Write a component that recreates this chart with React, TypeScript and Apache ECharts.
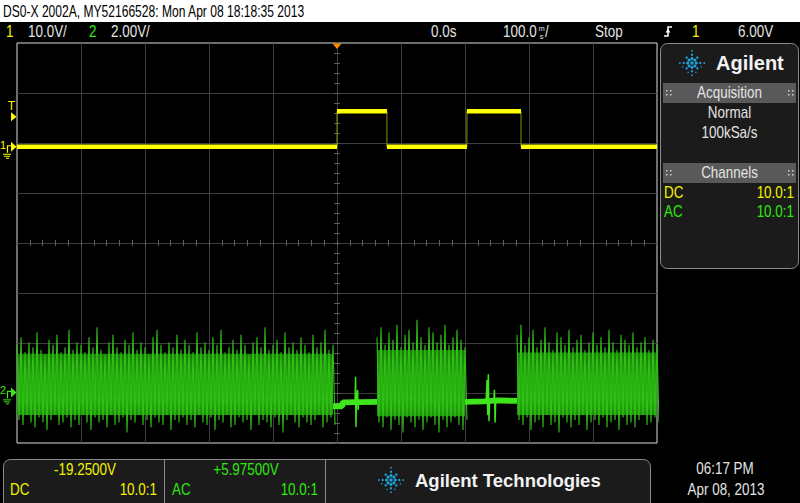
import React, { useEffect, useRef } from "react";
import * as echarts from "echarts";

// ---------------- time base & channel settings ----------------
const timeMin = -500; // ms
const timeMax = 500;
const timeDiv = 100; // ms / div
const ch1Scale = 10; // V / div
const ch1Offset = -19.25; // V
const ch2Scale = 2; // V / div
const ch2Offset = 5.975; // V
const halfDivsY = 4;

// ---------------- channel 1 (yellow, square pulses) ----------------
const ch1EdgeTimes = [-500, 0, 78, 203, 287.5, 500];
const ch1Levels = [0, 7.1, 0, 7.1, 0];
const ch1TriggerLevel = 6.0;

// ---------------- channel 2 (green, noise bursts; per-column max / min, V) ----------------
const noiseStarts = [-500, 62.5, 281.25];
const noiseEnds = [-6.25, 200, 500];
const noiseStep = 6.25; // ms per column
const noise1Hi = [
  1.9, 2.2, 1.6, 2.0, 1.8, 2.4, 1.7, 1.5, 2.1, 1.9,
  2.3, 1.6, 1.8, 2.5, 1.7, 2.0, 1.9, 1.6, 2.2, 1.8,
  2.6, 1.7, 1.5, 2.0, 2.3, 1.8, 1.6, 2.1, 1.9, 2.4,
  1.7, 2.0, 1.8, 1.5, 2.2, 2.5, 1.9, 1.6, 2.0, 1.8,
  2.3, 1.7, 2.1, 1.9, 1.6, 2.4, 1.8, 2.0, 1.7, 2.2,
  1.9, 2.5, 1.6, 1.8, 2.1, 1.7, 2.3, 1.9, 1.5, 2.0,
  2.2, 1.8, 2.6, 1.7, 1.9, 2.1, 1.6, 2.4, 1.8, 2.0,
  1.7, 2.2, 1.9, 1.6, 2.3, 1.8, 2.0, 2.5, 1.7, 1.9,
];
const noise1Lo = [
  -1.1, -1.3, -0.9, -1.2, -1.4, -1.0, -1.2, -1.5, -1.1, -0.9,
  -1.3, -1.2, -1.0, -1.4, -1.1, -1.3, -0.9, -1.2, -1.5, -1.0,
  -1.2, -1.1, -1.4, -0.9, -1.3, -1.2, -1.0, -1.6, -1.1, -1.2,
  -0.9, -1.3, -1.1, -1.4, -1.0, -1.2, -1.3, -0.9, -1.5, -1.1,
  -1.2, -1.0, -1.3, -1.1, -1.4, -0.9, -1.2, -1.3, -1.0, -1.5,
  -1.1, -1.2, -0.9, -1.4, -1.3, -1.0, -1.2, -1.1, -1.5, -0.9,
  -1.3, -1.1, -1.2, -1.4, -1.0, -1.3, -1.6, -1.1, -0.9, -1.2,
  -1.4, -1.0, -1.2, -1.3, -1.1, -0.9, -1.4, -1.2, -1.0, -1.3,
];
const noise2Hi = [
  2.2, 2.6, 1.9, 2.4, 2.1, 2.7, 1.8, 2.3, 2.5, 2.0,
  2.9, 2.2, 1.9, 2.6, 2.4, 2.0, 2.3, 2.7, 1.9, 2.2,
  2.5, 2.1, 1.8,
];
const noise2Lo = [
  -1.2, -1.4, -1.0, -1.5, -1.1, -1.3, -1.6, -1.0, -1.2, -1.4,
  -1.1, -1.5, -1.2, -1.0, -1.3, -1.6, -1.1, -1.4, -1.2, -1.0,
  -1.3, -1.5, -1.1,
];
const noise3Hi = [
  2.3, 2.7, 1.9, 2.2, 2.5, 1.8, 2.1, 2.6, 2.0, 1.7,
  2.4, 2.2, 1.9, 2.5, 1.8, 2.1, 2.3, 1.7, 2.0, 2.4,
  1.9, 2.2, 1.8, 2.5, 2.0, 1.7, 2.3, 2.1, 1.9, 2.4,
  1.8, 2.0, 2.2, 1.7, 2.1, 1.9,
];
const noise3Lo = [
  -1.1, -1.3, -1.0, -1.5, -1.2, -1.1, -1.4, -0.9, -1.3, -1.2,
  -1.6, -1.0, -1.2, -1.4, -1.1, -1.3, -0.9, -1.5, -1.2, -1.1,
  -1.3, -1.0, -1.4, -1.2, -1.1, -1.5, -1.0, -1.3, -1.2, -1.4,
  -1.1, -0.9, -1.3, -1.2, -1.0, -1.2,
];
const noiseBandLo = [-0.9, -0.95, -0.9];
const noiseBandHi = [1.55, 1.7, 1.6];

const quiet1T = [-6.25, 8, 9, 62.5];
const quiet1V = [-0.55, -0.55, -0.4, -0.38];
const quiet2T = [200, 230, 250, 281.25];
const quiet2V = [-0.38, -0.36, -0.32, -0.34];

const spike1T = [28.2, 29.0, 29.6, 30.3, 32.2, 33.0, 33.8];
const spike1V = [-0.4, 0.62, -1.38, -0.3, 0.1, -0.7, -0.35];
const spike2T = [233, 234.5, 235.5, 236.5, 237.5, 238.5, 245, 246, 247, 248];
const spike2V = [-0.35, 0.5, -0.9, 0.72, -1.15, -0.3, -0.3, 0.1, -1.2, -0.3];

// ---------------- texts ----------------
const headerText = "DS0-X 2002A, MY52166528: Mon Apr 08 18:18:35 2013";
const ch1ScaleText = "10.0V/";
const ch2ScaleText = "2.00V/";
const delayText = "0.0s";
const timeScaleText = "100.0";
const runText = "Stop";
const trigLevelText = "6.00V";
const ch1OffsetText = "-19.2500V";
const ch2OffsetText = "+5.97500V";
const probeText = "10.0:1";
const clockText = "06:17 PM";
const dateText = "Apr 08, 2013";

const YEL = "#ffff00";
const YEL_T = "#f2f200";
const GRN = "#3ee41c";
const GRN_T = "#2ee810";
const LOGO = "#1e9fd8";
const TXT = "#e4e4e4";
const SANS = '"Liberation Sans", Arial, sans-serif';
const NARROW_SCALE = 0.84;

function txt(text: string, x: number, y: number, fill: string, size = 16, align = "left", extra: any = {}, scale = NARROW_SCALE) {
  return {
    type: "text",
    x,
    y,
    scaleX: scale,
    silent: true,
    z: 100,
    style: { text, fill, fontSize: size, fontFamily: SANS, align, verticalAlign: "middle", ...extra },
  };
}

function agilentLogo(cx: number, cy: number, s: number) {
  const out: any[] = [];
  out.push({ type: "circle", z: 100, silent: true, shape: { cx, cy, r: 1.5 * s }, style: { fill: LOGO } });
  for (let k = 0; k < 8; k++) {
    const a = (k * Math.PI) / 4;
    const diag = k % 2 === 1;
    const dists = diag ? [3.6, 6.6] : [3.8, 7.2, 10.6];
    dists.forEach((d, j) =>
      out.push({
        type: "circle",
        z: 100,
        silent: true,
        shape: { cx: cx + Math.cos(a) * d * s, cy: cy + Math.sin(a) * d * s, r: (1.35 - j * 0.3) * s },
        style: { fill: LOGO },
      })
    );
  }
  for (let k = 0; k < 8; k++) {
    const a = ((k + 0.5) * Math.PI) / 4;
    out.push({
      type: "circle",
      z: 100,
      silent: true,
      shape: { cx: cx + Math.cos(a) * 8.8 * s, cy: cy + Math.sin(a) * 8.8 * s, r: 0.6 * s },
      style: { fill: LOGO },
    });
  }
  return out;
}

function grip(x: number, y: number) {
  const out: any[] = [];
  [0, 4].forEach((dx) =>
    [0, 4].forEach((dy) =>
      out.push({ type: "rect", z: 100, silent: true, shape: { x: x + dx, y: y + dy, width: 1.5, height: 1.5 }, style: { fill: "#cfcfcf" } })
    )
  );
  return out;
}

function buildData() {
  const ch1Step: any[] = [];
  const ch1Flat: any[] = [];
  ch1Levels.forEach((lv, i) => {
    ch1Step.push([ch1EdgeTimes[i], lv], [ch1EdgeTimes[i + 1], lv]);
    ch1Flat.push([ch1EdgeTimes[i], lv], [ch1EdgeTimes[i + 1], lv], [ch1EdgeTimes[i + 1], "-"]);
  });
  // peak-detect style trace: each column goes max -> min
  const noise: any[] = [];
  [
    [noise1Hi, noise1Lo],
    [noise2Hi, noise2Lo],
    [noise3Hi, noise3Lo],
  ].forEach(([hi, lo], k) => {
    hi.forEach((v, i) => {
      const t = noiseStarts[k] + i * noiseStep;
      noise.push([t, v], [t + noiseStep / 2, lo[i]]);
    });
    noise.push([noiseEnds[k], "-"]);
  });
  const quiet: any[] = [];
  quiet1T.forEach((t, i) => quiet.push([t, quiet1V[i]]));
  quiet.push([quiet1T[quiet1T.length - 1], "-"]);
  quiet2T.forEach((t, i) => quiet.push([t, quiet2V[i]]));
  const spikes: any[] = [];
  spike1T.forEach((t, i) => spikes.push([t, spike1V[i]]));
  spikes.push([spike1T[spike1T.length - 1], "-"]);
  spike2T.forEach((t, i) => spikes.push([t, spike2V[i]]));
  const band = noiseStarts.map((s, i) => [s, noiseEnds[i], noiseBandLo[i], noiseBandHi[i]]);
  return { ch1Step, ch1Flat, noise, quiet, spikes, band };
}

export default function App() {
  const ref = useRef<HTMLDivElement>(null);
  useEffect(() => {
    if (!ref.current) return;
    const chart = echarts.init(ref.current, undefined, { renderer: "svg" });
    const d = buildData();

    const divAxisX = (pos: string, split: boolean) => ({
      type: "value",
      min: timeMin,
      max: timeMax,
      interval: timeDiv,
      position: pos,
      axisLine: { show: true, onZero: true, onZeroAxisIndex: 0, lineStyle: { color: "#3e3e3e" } },
      axisTick: { show: true, length: 3, lineStyle: { color: "#5e5e5e" } },
      minorTick: { show: true, splitNumber: 5, length: 3, lineStyle: { color: "#5e5e5e" } },
      axisLabel: { show: false },
      splitLine: { show: split, showMinLine: false, showMaxLine: false, lineStyle: { color: "#3e3e3e", width: 1 } },
    });
    const divAxisY = (pos: string, split: boolean) => ({
      type: "value",
      min: -halfDivsY,
      max: halfDivsY,
      interval: 1,
      position: pos,
      axisLine: { show: true, onZero: true, onZeroAxisIndex: 0, lineStyle: { color: "#3e3e3e" } },
      axisTick: { show: true, length: 3, lineStyle: { color: "#5e5e5e" } },
      minorTick: { show: true, splitNumber: 5, length: 3, lineStyle: { color: "#5e5e5e" } },
      axisLabel: { show: false },
      splitLine: { show: split, showMinLine: false, showMaxLine: false, lineStyle: { color: "#3e3e3e", width: 1 } },
    });

    const option: any = {
      animation: false,
      backgroundColor: "#000000",
      grid: { left: 17, top: 43, width: 640, height: 400, show: true, borderColor: "#dcdcdc", borderWidth: 1, backgroundColor: "transparent" },
      xAxis: [divAxisX("bottom", true), divAxisX("top", false)],
      yAxis: [
        divAxisY("left", true),
        divAxisY("right", false),
        { type: "value", show: false, min: ch1Offset - halfDivsY * ch1Scale, max: ch1Offset + halfDivsY * ch1Scale, splitLine: { show: false } },
        { type: "value", show: false, min: ch2Offset - halfDivsY * ch2Scale, max: ch2Offset + halfDivsY * ch2Scale, splitLine: { show: false } },
      ],
      series: [
        {
          type: "custom",
          name: "ch2 band",
          xAxisIndex: 0,
          yAxisIndex: 3,
          silent: true,
          clip: true,
          z: 2,
          encode: { x: [0, 1], y: [2, 3] },
          data: d.band,
          renderItem: (params: any, api: any) => {
            const p0 = api.coord([api.value(0), api.value(3)]);
            const p1 = api.coord([api.value(1), api.value(2)]);
            return {
              type: "rect",
              shape: { x: p0[0], y: p0[1], width: p1[0] - p0[0], height: p1[1] - p0[1] },
              style: {
                fill: new echarts.graphic.LinearGradient(0, 0, 0, 1, [
                  { offset: 0, color: "#177c07" },
                  { offset: 0.35, color: "#1f9c0b" },
                  { offset: 0.75, color: "#27ad0f" },
                  { offset: 1, color: "#1c900a" },
                ]),
              },
            };
          },
        },
        {
          type: "line",
          name: "ch2 noise",
          xAxisIndex: 0,
          yAxisIndex: 3,
          data: d.noise,
          showSymbol: false,
          symbol: "none",
          connectNulls: false,
          silent: true,
          z: 3,
          lineStyle: { color: "#30c016", width: 1.1 },
        },
        {
          type: "line",
          name: "ch2 quiet",
          xAxisIndex: 0,
          yAxisIndex: 3,
          data: d.quiet,
          showSymbol: false,
          symbol: "none",
          connectNulls: false,
          silent: true,
          z: 4,
          lineStyle: { color: GRN, width: 6 },
        },
        {
          type: "line",
          name: "ch2 spikes",
          xAxisIndex: 0,
          yAxisIndex: 3,
          data: d.spikes,
          showSymbol: false,
          symbol: "none",
          connectNulls: false,
          silent: true,
          z: 4,
          lineStyle: { color: GRN, width: 1.5 },
        },
        {
          type: "line",
          name: "ch1 edges",
          xAxisIndex: 0,
          yAxisIndex: 2,
          data: d.ch1Step,
          showSymbol: false,
          symbol: "none",
          silent: true,
          z: 5,
          lineStyle: { color: "#8f8f00", width: 1 },
        },
        {
          type: "line",
          name: "ch1",
          xAxisIndex: 0,
          yAxisIndex: 2,
          data: d.ch1Flat,
          showSymbol: false,
          symbol: "none",
          connectNulls: false,
          silent: true,
          z: 6,
          lineStyle: { color: YEL, width: 4.5 },
        },
      ],
    };
    chart.setOption(option);

    const cx0 = chart.convertToPixel({ xAxisIndex: 0 }, 0) as number;
    const y1g = chart.convertToPixel({ yAxisIndex: 2 }, 0) as number;
    const yTr = chart.convertToPixel({ yAxisIndex: 2 }, ch1TriggerLevel) as number;
    const y2g = chart.convertToPixel({ yAxisIndex: 3 }, 0) as number;
    const topY = chart.convertToPixel({ yAxisIndex: 0 }, halfDivsY) as number;

    const g: any[] = [];
    // header + status bar
    g.push({ type: "rect", z: 90, silent: true, shape: { x: 0, y: 0, width: 800, height: 22 }, style: { fill: "#ffffff" } });
    g.push(txt(headerText, 3, 11.5, "#000000", 16, "left", {}, 0.755));
    g.push(txt("1", 6, 32, YEL_T));
    g.push(txt(ch1ScaleText, 28, 32, TXT));
    g.push(txt("2", 89, 32, GRN_T));
    g.push(txt(ch2ScaleText, 111, 32, TXT));
    g.push(txt(delayText, 431, 32, TXT));
    g.push(txt(timeScaleText, 503, 32, TXT));
    g.push(txt("m", 541.5, 28, TXT, 7.5, "center", {}, 1));
    g.push(txt("s", 541.5, 36, TXT, 7.5, "center", {}, 1));
    g.push(txt("/", 545, 32, TXT));
    g.push(txt(runText, 595, 32, TXT));
    g.push({ type: "polyline", z: 100, silent: true, shape: { points: [[664, 36], [668, 36], [668, 27], [672, 27]] }, style: { stroke: "#ffffff", lineWidth: 1.5, fill: null } });
    g.push({ type: "polygon", z: 100, silent: true, shape: { points: [[665.5, 32.5], [668, 29], [670.5, 32.5]] }, style: { fill: "#ffffff" } });
    g.push(txt("1", 692, 32, YEL_T));
    g.push(txt(trigLevelText, 738, 32, TXT));

    // trigger position marker (orange)
    g.push({ type: "polygon", z: 100, silent: true, shape: { points: [[cx0 - 4.5, topY + 0.5], [cx0 + 4.5, topY + 0.5], [cx0, topY + 6]] }, style: { fill: "#ff8a00" } });

    // left markers: trigger level, channel grounds
    g.push(txt("T", 11.5, yTr - 11, YEL, 12, "center", {}, 1));
    g.push({ type: "polygon", z: 100, silent: true, shape: { points: [[11, yTr - 4.5], [16.5, yTr], [11, yTr + 4.5]] }, style: { fill: YEL } });
    const chanMark = (y: number, label: string, col: string) => {
      g.push(txt(label, 3, y - 2, col, 11, "center", {}, 1));
      g.push({ type: "polyline", z: 100, silent: true, shape: { points: [[7.5, y + 6], [7.5, y - 1], [11, y - 1]] }, style: { stroke: col, lineWidth: 1.2, fill: null } });
      g.push({ type: "polygon", z: 100, silent: true, shape: { points: [[11, y - 5], [16.5, y], [11, y + 5]] }, style: { fill: col } });
      [[3, 11], [4, 10], [6, 9]].forEach((w, i) =>
        g.push({ type: "line", z: 100, silent: true, shape: { x1: w[0], y1: y + 7.5 + i * 2, x2: w[1], y2: y + 7.5 + i * 2 }, style: { stroke: col, lineWidth: 1 } })
      );
    };
    chanMark(y1g, "1", YEL);
    chanMark(y2g, "2", GRN);

    // right panel
    g.push({ type: "rect", z: 95, silent: true, shape: { x: 660.5, y: 43.5, width: 138, height: 225, r: 7 }, style: { fill: "#1b1b1b", stroke: "#8a8a8a", lineWidth: 1 } });
    g.push(...agilentLogo(692, 63, 1.15));
    g.push({ type: "text", x: 716, y: 63, z: 100, silent: true, style: { text: "Agilent", fill: "#f2f2f2", fontSize: 20, fontWeight: "bold", fontFamily: SANS, align: "left", verticalAlign: "middle" } });
    g.push({ type: "rect", z: 96, silent: true, shape: { x: 663, y: 83, width: 133, height: 20 }, style: { fill: "#595959" } });
    g.push(...grip(666, 90), ...grip(788, 90));
    g.push(txt("Acquisition", 729.5, 93, TXT, 16, "center"));
    g.push(txt("Normal", 729.5, 113, TXT, 16, "center"));
    g.push(txt("100kSa/s", 729.5, 133, TXT, 16, "center"));
    g.push({ type: "rect", z: 96, silent: true, shape: { x: 663, y: 163, width: 133, height: 20 }, style: { fill: "#595959" } });
    g.push(...grip(666, 170), ...grip(788, 170));
    g.push(txt("Channels", 729.5, 173, TXT, 16, "center"));
    g.push(txt("DC", 664, 193, YEL_T));
    g.push(txt(probeText, 794, 193, YEL_T, 16, "right"));
    g.push(txt("AC", 664, 212, GRN_T));
    g.push(txt(probeText, 794, 212, GRN_T, 16, "right"));

    // bottom bar
    g.push({ type: "rect", z: 95, silent: true, shape: { x: 3.5, y: 459.5, width: 647, height: 60, r: 7 }, style: { fill: "#1b1b1b", stroke: "#8a8a8a", lineWidth: 1 } });
    g.push({ type: "line", z: 96, silent: true, shape: { x1: 164.5, y1: 459.5, x2: 164.5, y2: 503 }, style: { stroke: "#8a8a8a", lineWidth: 1 } });
    g.push({ type: "line", z: 96, silent: true, shape: { x1: 325.5, y1: 459.5, x2: 325.5, y2: 503 }, style: { stroke: "#8a8a8a", lineWidth: 1 } });
    g.push(txt(ch1OffsetText, 85, 470, YEL_T, 16, "center"));
    g.push(txt("DC", 10, 490, YEL_T));
    g.push(txt(probeText, 157, 490, YEL_T, 16, "right"));
    g.push(txt(ch2OffsetText, 246, 470, GRN_T, 16, "center"));
    g.push(txt("AC", 172, 490, GRN_T));
    g.push(txt(probeText, 318, 490, GRN_T, 16, "right"));
    g.push(...agilentLogo(391, 480, 1.15));
    g.push({ type: "text", x: 415, y: 480, z: 100, silent: true, style: { text: "Agilent Technologies", fill: "#f2f2f2", fontSize: 18.5, fontWeight: "bold", fontFamily: SANS, align: "left", verticalAlign: "middle" } });
    g.push(txt(clockText, 725, 469, TXT, 16, "center"));
    g.push(txt(dateText, 726, 490, TXT, 16, "center"));

    chart.setOption({ graphic: g });
    return () => chart.dispose();
  }, []);
  return <div ref={ref} style={{ position: "fixed", left: 0, top: 0, width: 800, height: 503 }} />;
}
